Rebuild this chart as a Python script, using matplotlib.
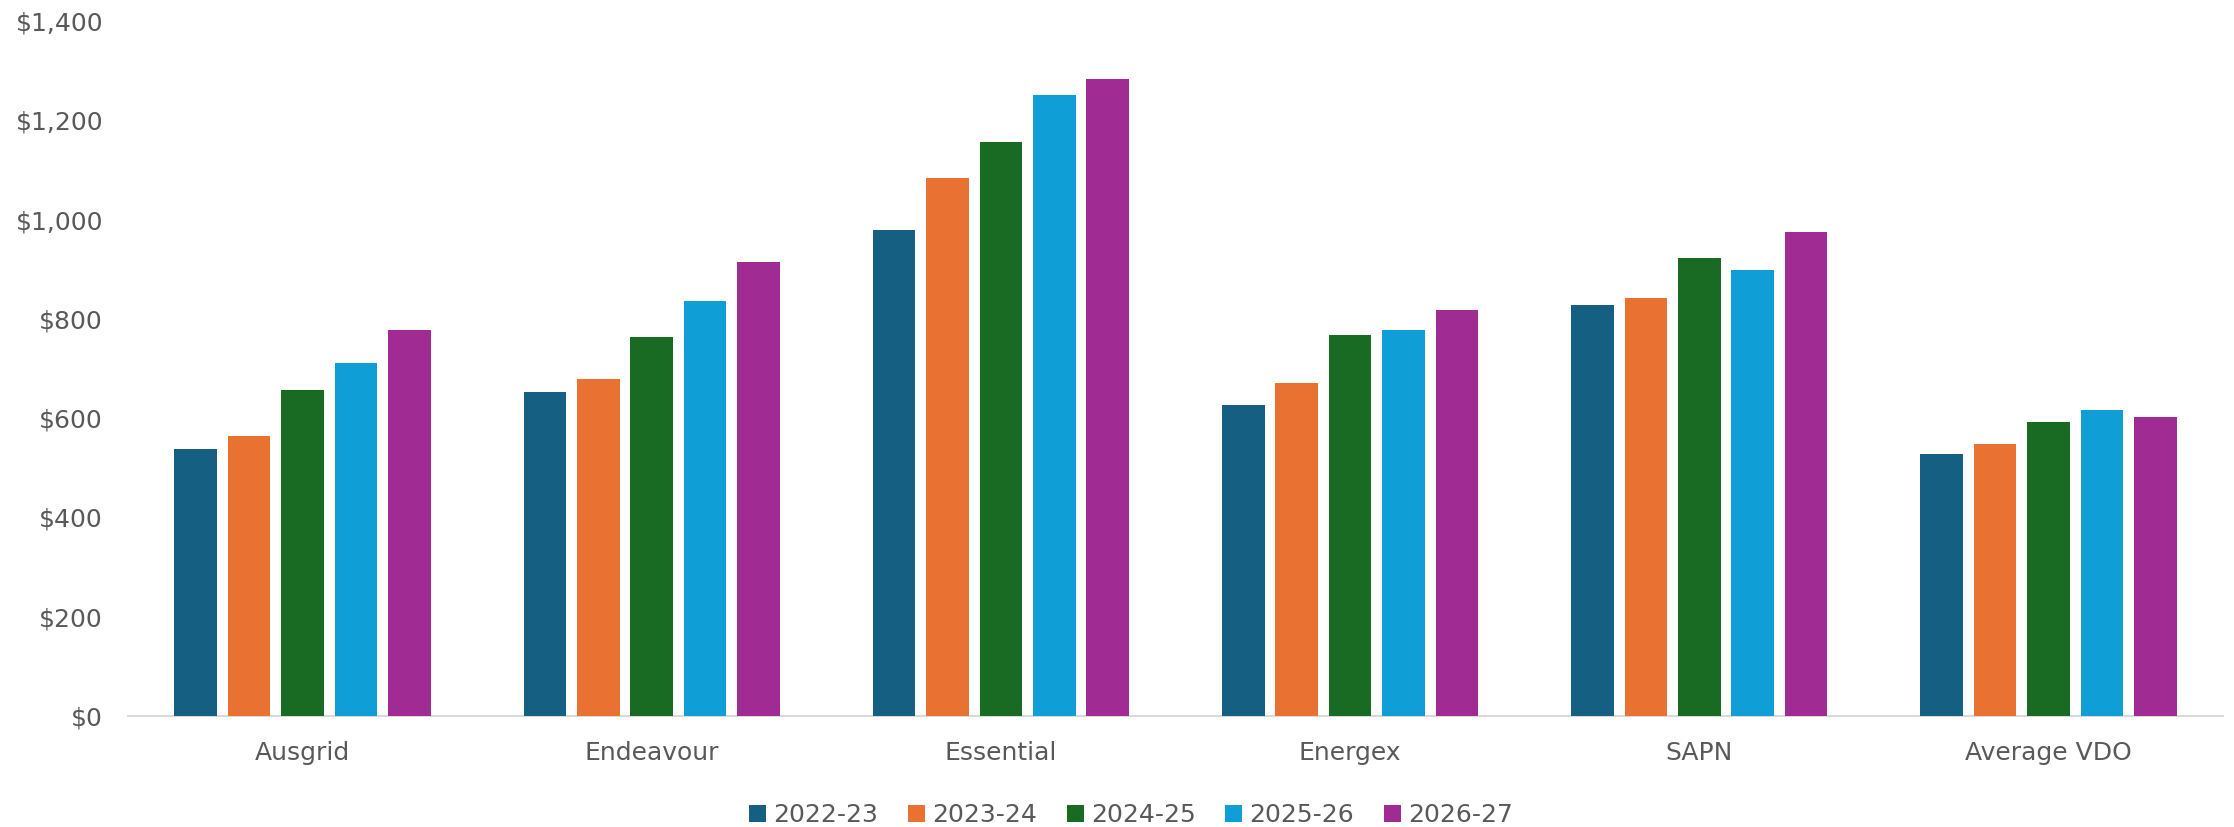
import matplotlib
matplotlib.use("Agg")
import matplotlib.pyplot as plt
import numpy as np
from matplotlib.ticker import FuncFormatter

categories = ["Ausgrid", "Endeavour", "Essential", "Energex", "SAPN", "Average VDO"]
series_names = ["2022-23", "2023-24", "2024-25", "2025-26", "2026-27"]
v2022_23 = [537, 653, 980, 627, 827, 527]
v2023_24 = [565, 678, 1084, 670, 842, 548]
v2024_25 = [656, 764, 1156, 768, 922, 593]
v2025_26 = [712, 836, 1251, 778, 898, 616]
v2026_27 = [778, 915, 1284, 818, 974, 603]
series_values = [v2022_23, v2023_24, v2024_25, v2025_26, v2026_27]
colors = ["#156082", "#E97132", "#196B24", "#0F9ED5", "#A02B93"]
yticks = [0, 200, 400, 600, 800, 1000, 1200, 1400]

plt.rcParams['font.family'] = ['DejaVu Sans']
text_color = "#595959"

fig = plt.figure(figsize=(22.34, 8.27), dpi=100)
ax = fig.add_axes([128/2234, 1-716/827, (2223-128)/2234, (716-21)/827])

x = np.arange(len(categories))
step = 0.153
width = 0.122
for i, (name, vals, c) in enumerate(zip(series_names, series_values, colors)):
    ax.bar(x + (i - 2) * step, vals, width=width, color=c, label=name, zorder=3)

ax.set_xlim(-0.5, len(categories) - 0.5)
ax.set_ylim(0, 1400)
ax.set_yticks(yticks)
ax.yaxis.set_major_formatter(FuncFormatter(lambda v, p: f"${v:,.0f}"))
ax.set_xticks(x)
ax.set_xticklabels(categories)
for s in ["top", "right", "left"]:
    ax.spines[s].set_visible(False)
ax.spines["bottom"].set_color("#D9D9D9")
ax.spines["bottom"].set_linewidth(1.5)
ax.tick_params(axis="both", length=0, labelsize=18, colors=text_color)
ax.tick_params(axis="x", pad=18)
ax.tick_params(axis="y", pad=18)

leg = fig.legend(loc="center", bbox_to_anchor=(0.5 + 14/2234, 1-815/827), ncol=5, frameon=False,
                 fontsize=18, handlelength=0.68, handleheight=0.68, handletextpad=0.28,
                 columnspacing=1.2, borderaxespad=0)
for t in leg.get_texts():
    t.set_color(text_color)

fig.savefig("out.png", dpi=100)
